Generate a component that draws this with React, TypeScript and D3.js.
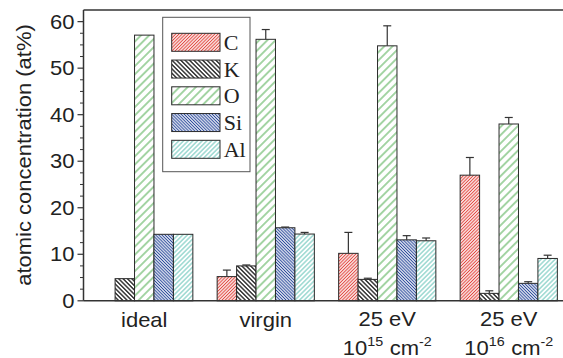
import React from "react";
import * as d3 from "d3";

const groups = ["ideal", "virgin", "25 eV 1e15", "25 eV 1e16"];
const elements = ["C", "K", "O", "Si", "Al"];

// atomic concentration (at%) per element, one entry per sample
const valC = [0, 5.2, 10.2, 27.0];
const valK = [4.76, 7.5, 4.6, 1.6];
const valO = [57.1, 56.2, 54.8, 38.0];
const valSi = [14.29, 15.7, 13.1, 3.75];
const valAl = [14.29, 14.35, 12.9, 9.1];

// upper error bar lengths (at%)
const errC = [0, 1.4, 4.5, 3.8];
const errK = [0, 0.2, 0.25, 0.55];
const errO = [0, 2.1, 4.3, 1.4];
const errSi = [0, 0.15, 0.9, 0.35];
const errAl = [0, 0.35, 0.6, 0.7];

const yTicks = [0, 10, 20, 30, 40, 50, 60];

const values = [valC, valK, valO, valSi, valAl];
const errors = [errC, errK, errO, errSi, errAl];

const hatch = [
  { id: "hC", color: "#e2463f", gap: 2.3, angle: 45, w: 1.1 },
  { id: "hK", color: "#1a1a1a", gap: 3.1, angle: -45, w: 1.3 },
  { id: "hO", color: "#5cb35c", gap: 5.8, angle: 45, w: 1.1 },
  { id: "hSi", color: "#2c4c9c", gap: 2.2, angle: -45, w: 1.1 },
  { id: "hAl", color: "#78cbc0", gap: 3.3, angle: 45, w: 1.1 },
];

const W = 563;
const H = 358;
const sans = "'Liberation Sans', Arial, sans-serif";
const serif = "'Liberation Serif', 'Times New Roman', serif";
const axisColor = "#333";

export default function App() {
  const y = d3.scaleLinear().domain([0, 62.5]).range([300.8, 10]);
  const x = d3
    .scaleBand<string>()
    .domain(groups)
    .range([83.5, 569.5])
    .paddingInner(0.2)
    .paddingOuter(0.1);
  const xi = d3.scaleBand<string>().domain(elements).range([0, x.bandwidth()]);
  const bw = xi.bandwidth();

  const minor = d3.range(0, 62.5, 2.5).filter((v) => v % 10 !== 0);
  const left = 83.5;
  const right = W + 10;

  const lx = 171.7;
  const ly0 = 33.3;
  const lstep = 26.75;

  const stretch = (tx: number, ty: number) => `translate(${tx},${ty}) scale(1.1,1)`;

  return (
    <svg width={W} height={H} style={{ position: "absolute", left: 0, top: 0, background: "#fff" }}>
      <defs>
        {hatch.map((h) => (
          <pattern
            key={h.id}
            id={h.id}
            patternUnits="userSpaceOnUse"
            width={h.gap}
            height={10}
            patternTransform={`rotate(${h.angle})`}
          >
            <rect width={h.gap} height={10} fill="#fff" />
            <line x1={h.gap / 2} y1={0} x2={h.gap / 2} y2={10} stroke={h.color} strokeWidth={h.w} />
          </pattern>
        ))}
      </defs>

      {/* bars */}
      {groups.map((g, gi) =>
        elements.map((el, ei) => {
          const v = values[ei][gi];
          if (v <= 0) return null;
          const x0 = (x(g) as number) + (xi(el) as number);
          return (
            <rect
              key={g + el}
              x={x0}
              y={y(v)}
              width={bw}
              height={y(0) - y(v)}
              fill={`url(#${hatch[ei].id})`}
              stroke="#2a2a2a"
              strokeWidth={1}
            />
          );
        })
      )}

      {/* upper error bars */}
      {groups.map((g, gi) =>
        elements.map((el, ei) => {
          const v = values[ei][gi];
          const e = errors[ei][gi];
          if (v <= 0 || e <= 0) return null;
          const cx = (x(g) as number) + (xi(el) as number) + bw / 2;
          return (
            <g key={"e" + g + el} stroke="#333" strokeWidth={1.2}>
              <line x1={cx} x2={cx} y1={y(v)} y2={y(v + e)} />
              <line x1={cx - 4} x2={cx + 4} y1={y(v + e)} y2={y(v + e)} />
            </g>
          );
        })
      )}

      {/* frame */}
      <line x1={left} x2={left} y1={y.range()[1]} y2={y(0)} stroke={axisColor} strokeWidth={1.5} />
      <line x1={left} x2={right} y1={y(0)} y2={y(0)} stroke={axisColor} strokeWidth={1.5} />
      <line x1={left} x2={right} y1={y.range()[1]} y2={y.range()[1]} stroke={axisColor} strokeWidth={1.5} />

      {/* y ticks */}
      {yTicks.map((t) => (
        <g key={"t" + t}>
          <line x1={left - 6} x2={left} y1={y(t)} y2={y(t)} stroke={axisColor} strokeWidth={1.2} />
          <text
            transform={stretch(left - 9, y(t) + 7)}
            textAnchor="end"
            fontFamily={sans}
            fontSize={20}
            fill="#222"
          >
            {t}
          </text>
        </g>
      ))}
      {minor.map((t) => (
        <line key={"m" + t} x1={left - 3.5} x2={left} y1={y(t)} y2={y(t)} stroke={axisColor} strokeWidth={1} />
      ))}

      {/* y title */}
      <text
        transform={`translate(31,155) rotate(-90) scale(1.1,1)`}
        textAnchor="middle"
        fontFamily={sans}
        fontSize={20}
        fill="#222"
      >
        atomic concentration (at%)
      </text>

      {/* x labels */}
      {groups.map((g, gi) => {
        const cx = (x(g) as number) + x.bandwidth() / 2;
        if (gi < 2) {
          return (
            <text key={"xl" + g} transform={stretch(cx, 326.5)} textAnchor="middle" fontFamily={sans} fontSize={20} fill="#222">
              {g}
            </text>
          );
        }
        const exp = gi === 2 ? "15" : "16";
        return (
          <g key={"xl" + g} fontFamily={sans} fill="#222">
            <text transform={stretch(cx, 326)} textAnchor="middle" fontSize={20}>
              25 eV
            </text>
            <text transform={stretch(cx, 355)} textAnchor="middle" fontSize={20}>
              10
              <tspan fontSize={13} dy={-9}>{exp}</tspan>
              <tspan dy={9} dx={6}>cm</tspan>
              <tspan fontSize={13} dy={-9}>-2</tspan>
            </text>
          </g>
        );
      })}

      {/* legend */}
      <rect x={162.7} y={17.3} width={87.3} height={154.4} fill="#fff" stroke="#555" strokeWidth={1} />
      {elements.map((el, ei) => (
        <g key={"lg" + el}>
          <rect
            x={lx}
            y={ly0 + ei * lstep}
            width={48.3}
            height={18}
            fill={`url(#${hatch[ei].id})`}
            stroke="#2a2a2a"
            strokeWidth={1}
          />
          <text x={lx + 52} y={ly0 + ei * lstep + 16.5} fontFamily={serif} fontSize={22} fill="#222">
            {el}
          </text>
        </g>
      ))}
    </svg>
  );
}
